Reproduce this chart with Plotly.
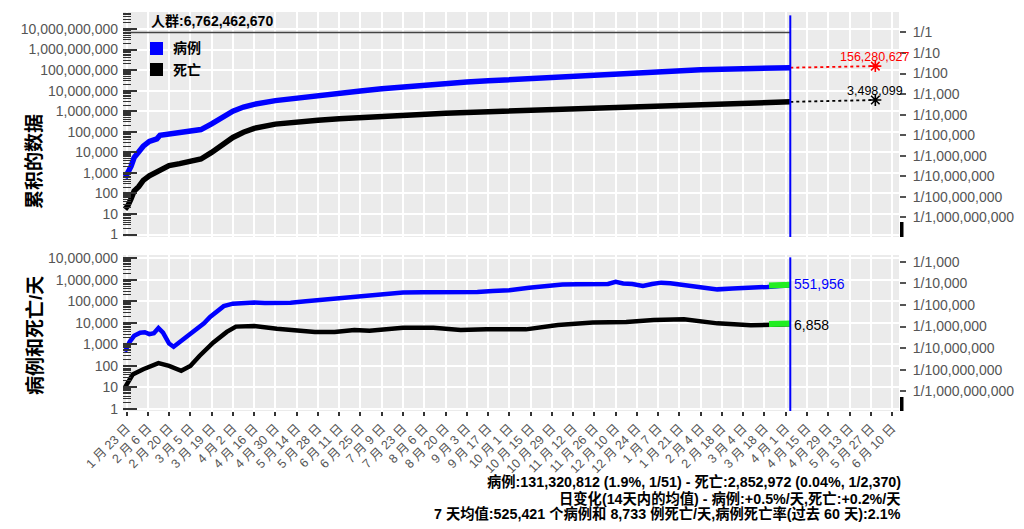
import numpy as np
import plotly.graph_objects as go

W, H = 1024, 529

# ---------------- data ----------------
population = 6762462670

cum_dates = ["2020-01-22", "2020-01-24", "2020-01-26", "2020-01-28", "2020-01-31", "2020-02-03",
             "2020-02-07", "2020-02-12", "2020-02-14", "2020-02-20", "2020-02-27", "2020-03-05",
             "2020-03-12", "2020-03-19", "2020-03-26", "2020-04-02", "2020-04-09", "2020-04-16",
             "2020-04-30", "2020-05-14", "2020-05-28", "2020-06-11", "2020-06-25", "2020-07-09",
             "2020-07-23", "2020-08-06", "2020-08-20", "2020-09-03", "2020-09-17", "2020-10-01",
             "2020-10-15", "2020-10-29", "2020-11-12", "2020-11-26", "2020-12-10", "2020-12-24",
             "2021-01-07", "2021-01-21", "2021-02-04", "2021-02-18", "2021-03-04", "2021-03-18",
             "2021-04-04"]
cum_cases = [555, 941, 2118, 5578, 9927, 19881,
             34000, 45000, 67000, 76000, 83000, 98000,
             128000, 243000, 530000, 1010000, 1600000, 2150000,
             3280000, 4470000, 5860000, 7530000, 9700000, 12300000,
             15400000, 19000000, 22600000, 26300000, 30200000, 34200000,
             38900000, 45100000, 52400000, 61000000, 69700000, 78600000,
             88300000, 97400000, 104800000, 110200000, 115600000, 121300000,
             131320812]
cum_deaths = [17, 26, 56, 131, 213, 427,
              719, 1118, 1520, 2247, 2800, 3400,
              4720, 9900, 24000, 53000, 95000, 146000,
              235000, 302000, 362000, 424000, 492000, 561000,
              636000, 716000, 792000, 868000, 942000, 1017000,
              1093000, 1183000, 1299000, 1450000, 1598000, 1754000,
              1920000, 2104000, 2275000, 2435000, 2555000, 2677000,
              2852972]

proj_date = "2021-05-30"
proj_cases = 156280627
proj_deaths = 3498099

daily_case_dates = ["2020-01-22", "2020-01-25", "2020-01-28", "2020-02-01", "2020-02-04", "2020-02-07",
                    "2020-02-10", "2020-02-13", "2020-02-16", "2020-02-20", "2020-02-23", "2020-02-27",
                    "2020-03-03", "2020-03-09", "2020-03-14", "2020-03-18", "2020-03-23", "2020-03-27",
                    "2020-04-02", "2020-04-09", "2020-04-16", "2020-04-23", "2020-05-01", "2020-05-10",
                    "2020-05-20", "2020-05-30", "2020-06-10", "2020-06-21", "2020-07-02", "2020-07-12",
                    "2020-07-23", "2020-08-05", "2020-08-15", "2020-08-30", "2020-09-10", "2020-09-20",
                    "2020-10-01", "2020-10-14", "2020-10-25", "2020-11-05", "2020-11-15", "2020-11-25",
                    "2020-12-05", "2020-12-10", "2020-12-15", "2020-12-21", "2020-12-28", "2021-01-03",
                    "2021-01-09", "2021-01-15", "2021-01-24", "2021-02-03", "2021-02-15", "2021-02-25",
                    "2021-03-09", "2021-03-20", "2021-03-28", "2021-04-04"]
daily_cases = [460, 1300, 2500, 3500, 3700, 3000,
               3300, 5800, 3500, 1100, 780, 1300,
               2300, 4700, 9500, 19000, 38000, 60000,
               78000, 85000, 88000, 84000, 82000, 86000,
               100000, 115000, 135000, 160000, 195000, 225000,
               255000, 265000, 265000, 265000, 275000, 300000,
               330000, 430000, 520000, 600000, 620000, 610000,
               640000, 800000, 680000, 640000, 515000, 640000,
               740000, 690000, 590000, 470000, 360000, 390000,
               410000, 470000, 520000, 551956]

daily_death_dates = ["2020-01-22", "2020-01-27", "2020-02-03", "2020-02-13", "2020-02-20", "2020-02-28",
                     "2020-03-05", "2020-03-11", "2020-03-20", "2020-03-29", "2020-04-04", "2020-04-16",
                     "2020-05-01", "2020-05-26", "2020-06-08", "2020-06-21", "2020-07-01", "2020-07-23",
                     "2020-08-12", "2020-08-30", "2020-09-16", "2020-10-12", "2020-11-02", "2020-11-25",
                     "2020-12-17", "2021-01-04", "2021-01-24", "2021-02-15", "2021-03-09", "2021-04-04"]
daily_deaths = [10, 40, 70, 135, 100, 60,
                100, 290, 1200, 3800, 6700, 7100,
                5400, 3800, 3800, 4700, 4300, 5900,
                5900, 4700, 5000, 5000, 8000, 10300,
                11000, 13500, 14700, 9500, 7700, 8700]
last_daily_cases = 551956
last_daily_deaths = 6858

trend_dates = ["2021-03-21", "2021-04-04"]
trend_cases = [545000, 590000]
trend_deaths = [8900, 9400]

tick_start = "2020-01-23"
x_range = ["2020-01-20 16:00", "2021-06-14 14:00"]

footer_lines = [
    "病例:131,320,812 (1.9%, 1/51) - 死亡:2,852,972 (0.04%, 1/2,370)",
    "日变化(14天内的均值) - 病例:+0.5%/天,死亡:+0.2%/天",
    "7 天均值:525,421 个病例和 8,733 例死亡/天,病例死亡率(过去 60 天):2.1%",
]

# ---------------- helpers ----------------
def fx(px):
    return px / W


def fy(py):
    return 1 - py / H


FONT = "Liberation Sans, Arial, Noto Sans CJK SC, sans-serif"
GRAY = "#555555"
end_date = cum_dates[-1]

fig = go.Figure()

# population line
fig.add_trace(go.Scatter(x=[cum_dates[0], end_date], y=[population, population], mode="lines",
                         line=dict(color="#444444", width=1.5), xaxis="x", yaxis="y",
                         showlegend=False, hoverinfo="skip"))
# cumulative curves
fig.add_trace(go.Scatter(x=cum_dates, y=cum_cases, mode="lines", line=dict(color="#0000ff", width=5.5),
                         xaxis="x", yaxis="y", showlegend=False))
fig.add_trace(go.Scatter(x=cum_dates, y=cum_deaths, mode="lines", line=dict(color="#000000", width=5.5),
                         xaxis="x", yaxis="y", showlegend=False))
# projections
fig.add_trace(go.Scatter(x=[end_date, proj_date], y=[cum_cases[-1], proj_cases], mode="lines",
                         line=dict(color="#ff0000", width=1.8, dash="dot"), xaxis="x", yaxis="y",
                         showlegend=False))
fig.add_trace(go.Scatter(x=[end_date, proj_date], y=[cum_deaths[-1], proj_deaths], mode="lines",
                         line=dict(color="#000000", width=1.8, dash="dot"), xaxis="x", yaxis="y",
                         showlegend=False))
fig.add_trace(go.Scatter(x=[proj_date], y=[proj_cases], mode="markers",
                         marker=dict(symbol="asterisk-open", size=10, color="#ff0000",
                                     line=dict(color="#ff0000", width=1.6)),
                         xaxis="x", yaxis="y", showlegend=False))
fig.add_trace(go.Scatter(x=[proj_date], y=[proj_deaths], mode="markers",
                         marker=dict(symbol="asterisk-open", size=10, color="#000000",
                                     line=dict(color="#000000", width=1.6)),
                         xaxis="x", yaxis="y", showlegend=False))
# right axis carrier (top)
fig.add_trace(go.Scatter(x=[cum_dates[0]], y=[population], mode="markers", marker=dict(opacity=0),
                         xaxis="x", yaxis="y3", showlegend=False, hoverinfo="skip"))

# daily curves
fig.add_trace(go.Scatter(x=daily_case_dates, y=daily_cases, mode="lines",
                         line=dict(color="#0000ff", width=4.5), xaxis="x2", yaxis="y2", showlegend=False))
fig.add_trace(go.Scatter(x=daily_death_dates, y=daily_deaths, mode="lines",
                         line=dict(color="#000000", width=4.5), xaxis="x2", yaxis="y2", showlegend=False))
fig.add_trace(go.Scatter(x=trend_dates, y=trend_cases, mode="lines", line=dict(color="#22ee22", width=6),
                         xaxis="x2", yaxis="y2", showlegend=False))
fig.add_trace(go.Scatter(x=trend_dates, y=trend_deaths, mode="lines", line=dict(color="#22ee22", width=6),
                         xaxis="x2", yaxis="y2", showlegend=False))
fig.add_trace(go.Scatter(x=[cum_dates[0]], y=[population / 1000], mode="markers", marker=dict(opacity=0),
                         xaxis="x2", yaxis="y4", showlegend=False, hoverinfo="skip"))

# ---------------- axes ----------------
top_dom = [fy(237), fy(12)]
bot_dom = [fy(411), fy(255)]
x_dom = [fx(123), fx(899)]
top_range = [-(237 - 234.5) / 20.55, (234.5 - 12) / 20.55]
bot_range = [-(411 - 409) / 21.53, (409 - 255) / 21.53]

DT = 14 * 86400000

common_x = dict(type="date", range=x_range, domain=x_dom, tick0=tick_start, dtick=DT, automargin=False,
                showgrid=True, gridcolor="white", gridwidth=1.6, zeroline=False, showline=False)

top_vals = [10 ** k for k in range(0, 11)]
bot_vals = [10 ** k for k in range(0, 8)]


def left_axis(dom, rng, vals, anchor):
    return dict(type="log", domain=dom, range=rng, anchor=anchor, tickvals=vals, automargin=False,
                ticktext=[f"{v:,}" for v in vals], ticks="inside", ticklen=14, tickwidth=1.5,
                tickcolor="#333333", tickfont=dict(size=14, color=GRAY, family=FONT),
                showgrid=True, gridcolor="white", gridwidth=1.6, zeroline=False, showline=False,
                ticklabelstandoff=4,
                minor=dict(ticks="inside", ticklen=8, tickwidth=1.2, tickcolor="#333333", dtick="D1",
                           showgrid=False))


def right_axis(rng, ks, overlay, anchor):
    vals = [population / 10 ** k for k in ks]
    return dict(type="log", range=rng, overlaying=overlay, anchor=anchor, side="right", automargin=False,
                tickvals=vals, ticktext=["1/" + f"{10 ** k:,}" for k in ks], ticks="outside",
                ticklen=6, tickwidth=1.5, tickcolor=GRAY, tickfont=dict(size=14, color=GRAY, family=FONT),
                showgrid=False, zeroline=False, showline=False, ticklabelstandoff=4)


fig.update_layout(
    width=W, height=H, autosize=False,
    margin=dict(l=0, r=0, t=0, b=0, autoexpand=False),
    paper_bgcolor="white", plot_bgcolor="#ebebeb",
    font=dict(family=FONT, size=13, color="black"),
    showlegend=False,
    xaxis=dict(**common_x, anchor="y", showticklabels=False, ticks="", matches="x2"),
    xaxis2=dict(**common_x, anchor="y2", ticks="outside", ticklen=4, tickwidth=1.5, tickcolor="#333333",
                tickformat="%-m 月 %-d 日", tickangle=-45,
                tickfont=dict(size=12.5, color=GRAY, family=FONT)),
    yaxis=left_axis(top_dom, top_range, top_vals, "x"),
    yaxis2=left_axis(bot_dom, bot_range, bot_vals, "x2"),
    yaxis3=right_axis(top_range, list(range(0, 10)), "y", "x"),
    yaxis4=right_axis(bot_range, list(range(3, 10)), "y2", "x2"),
)

# vertical "today" lines
for xr, yr in (("x", "y domain"), ("x2", "y2 domain")):
    fig.add_shape(type="line", xref=xr, yref=yr, x0=end_date, x1=end_date, y0=0, y1=0.985,
                  line=dict(color="#0000ff", width=2))

# small black bars at bottom right of each panel
for y0, y1 in ((222, 237), (397, 411)):
    fig.add_shape(type="rect", xref="paper", yref="paper", x0=fx(900), x1=fx(903.5), y0=fy(y1), y1=fy(y0),
                  fillcolor="black", line=dict(width=0))

# legend squares + labels
for (y0, col, name) in ((42, "#0000ff", "病例"), (63, "#000000", "死亡")):
    fig.add_shape(type="rect", xref="paper", yref="paper", x0=fx(150), x1=fx(163), y0=fy(y0 + 13), y1=fy(y0),
                  fillcolor=col, line=dict(width=0))
    fig.add_annotation(xref="paper", yref="paper", x=fx(171), y=fy(y0 + 6.5), xanchor="left", yanchor="middle",
                       text=f"<b>{name}</b>", showarrow=False, font=dict(size=14, color="black", family=FONT))

# population label
fig.add_annotation(xref="paper", yref="paper", x=fx(149), y=fy(21), xanchor="left", yanchor="middle",
                   text=f"<b>人群:{population:,}</b>", showarrow=False,
                   font=dict(size=14, color="black", family=FONT))

# projection labels
fig.add_annotation(xref="x", yref="y", x=proj_date, y=np.log10(proj_cases), yshift=9, showarrow=False,
                   text=f"{proj_cases:,}", font=dict(size=12.5, color="#ff0000", family=FONT))
fig.add_annotation(xref="x", yref="y", x=proj_date, y=np.log10(proj_deaths), yshift=9, showarrow=False,
                   text=f"{proj_deaths:,}", font=dict(size=12.5, color="#000000", family=FONT))

# last daily value labels
fig.add_annotation(xref="x2", yref="y2", x=end_date, y=np.log10(last_daily_cases), xanchor="left",
                   xshift=2, yshift=1, showarrow=False, text=f"{last_daily_cases:,}",
                   font=dict(size=14, color="#0000ff", family=FONT))
fig.add_annotation(xref="x2", yref="y2", x=end_date, y=np.log10(last_daily_deaths), xanchor="left",
                   xshift=2, yshift=1, showarrow=False, text=f"{last_daily_deaths:,}",
                   font=dict(size=14, color="#000000", family=FONT))

# axis titles
fig.add_annotation(xref="paper", yref="paper", x=fx(22), y=fy(112), textangle=-90, showarrow=False,
                   text="<b>累积的数据</b>", font=dict(size=19, color="black", family=FONT))
fig.add_annotation(xref="paper", yref="paper", x=fx(22), y=fy(336), textangle=-90, showarrow=False,
                   text="<b>病例和死亡/天</b>", font=dict(size=19, color="black", family=FONT))

# footer
for py, txt in zip((481, 498, 513), footer_lines):
    fig.add_annotation(xref="paper", yref="paper", x=fx(903), y=fy(py), xanchor="right", yanchor="middle",
                       showarrow=False, text=f"<b>{txt}</b>", font=dict(size=14.3, color="black", family=FONT))

fig.write_html("out.html")
